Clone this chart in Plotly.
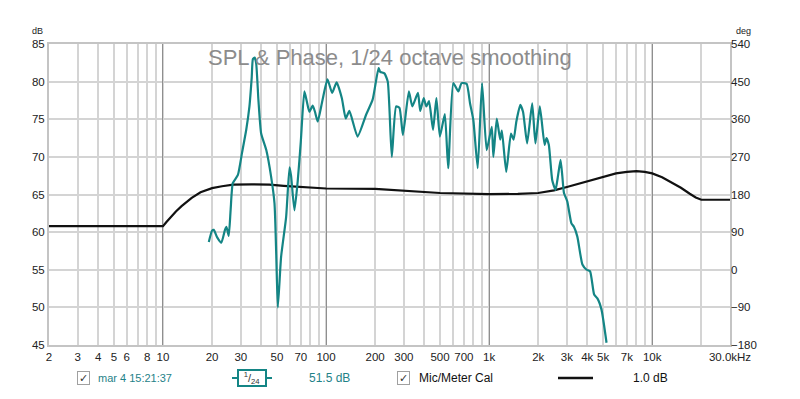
import plotly.graph_objects as go
import math

# SPL measurement (teal), 1/24 octave smoothing
spl_freq = [19.1, 20.0, 20.5, 21.5, 22.8, 24.0, 24.5, 25.3, 26.0, 26.8, 28.8, 30.5, 32.4, 33.9,
            35.0, 35.6, 36.5, 37.3, 38.5, 40.0, 43.0, 46.0, 48.3, 49.5, 50.6, 53.0, 56.9, 59.7,
            61.0, 64.0, 67.1, 70.0, 73.6, 76.0, 79.0, 82.8, 85.5, 88.9, 95.0, 102, 109, 116,
            125, 132, 139, 156, 176, 193, 210, 215, 228, 239, 253, 269, 282, 296, 322, 338,
            366, 378, 397, 412, 428, 453, 475, 499, 535, 561, 603, 647, 678, 728, 764, 800,
            851, 905, 966, 1038, 1062, 1114, 1169, 1197, 1274, 1361, 1413, 1469, 1552, 1614,
            1710, 1837, 1923, 2046, 2188, 2249, 2323, 2438, 2553, 2642, 2742, 2812, 2877, 3013,
            3192, 3311, 3475, 3733, 3963, 4159, 4406, 4613, 4887, 5248]
spl_db = [58.7, 60.2, 60.3, 59.3, 58.6, 60.3, 60.7, 59.5, 63.0, 66.5, 67.6, 70.5, 73.6, 76.7,
          80.5, 83.0, 83.2, 82.4, 77.5, 73.1, 70.9, 67.4, 63.8, 57.0, 50.0, 56.7, 62.0, 68.6,
          67.5, 62.9, 66.9, 72.0, 78.7, 77.5, 76.0, 76.8, 76.0, 74.7, 77.5, 80.3, 78.5, 79.9,
          77.8, 75.1, 76.1, 72.7, 75.6, 77.6, 81.8, 81.3, 81.1, 80.0, 70.0, 76.7, 76.5, 72.9,
          78.7, 76.7, 78.5, 76.1, 77.8, 76.7, 77.4, 73.6, 77.8, 72.7, 75.7, 68.5, 79.8, 78.7,
          79.8, 79.7, 77.1, 74.9, 68.5, 79.8, 70.9, 74.0, 70.0, 75.1, 72.3, 73.5, 68.0, 73.1,
          72.3, 74.7, 76.9, 76.0, 71.8, 77.1, 71.8, 76.7, 71.6, 72.5, 71.6, 66.9, 65.6, 67.4,
          69.6, 67.4, 65.2, 64.1, 61.2, 60.7, 59.4, 55.7, 55.0, 54.8, 51.7, 51.2, 49.7, 45.3]

# Mic/Meter Cal curve (black)
cal_freq = [2, 10, 10.5, 11, 12, 13, 14, 15, 17, 20, 23, 27, 35, 45, 55, 70, 100, 200, 300,
            500, 1000, 1500, 2000, 2500, 3000, 3500, 4000, 5000, 6000, 7000, 8000, 9000, 10000,
            11500, 13000, 15000, 17000, 18500, 20000, 30000]
cal_db = [60.8, 60.8, 61.35, 61.85, 62.75, 63.45, 64.05, 64.55, 65.3, 65.85, 66.1, 66.3, 66.35,
          66.3, 66.15, 66.0, 65.8, 65.75, 65.5, 65.2, 65.05, 65.08, 65.2, 65.55, 66.0, 66.4,
          66.8, 67.4, 67.8, 68.0, 68.1, 68.0, 67.8, 67.3, 66.7, 65.9, 65.1, 64.6, 64.3, 64.3]

# Axis ticks
x_tick_vals = [2, 3, 4, 5, 6, 7, 8, 9, 10, 20, 30, 40, 50, 60, 70, 80, 90, 100, 200, 300, 400,
               500, 600, 700, 800, 900, 1000, 2000, 3000, 4000, 5000, 6000, 7000, 8000, 9000,
               10000, 20000, 30000]
x_tick_text = ["2", "3", "4", "5", "6", "", "8", "", "10", "20", "30", "", "50", "", "70", "", "",
               "100", "200", "300", "", "500", "", "700", "", "", "1k", "2k", "3k", "4k", "5k",
               "", "7k", "", "", "10k", "", "30.0kHz"]
decades = [10, 100, 1000, 10000]
db_ticks = [45, 50, 55, 60, 65, 70, 75, 80, 85]
deg_ticks = [-180, -90, 0, 90, 180, 270, 360, 450, 540]

TEAL = "#148585"
TEAL_TXT = "#1f8288"
FONT = "Liberation Sans, Arial, sans-serif"

# The page body has an 8px default margin: size the figure so the plot lands in place.
OFF = 8
W, H = 800 - OFF, 399 - OFF
ML, MR, MT, MB = 49 - OFF, 70, 44 - OFF, 54
PL, PR, PT, PB = 49, 730, 44, 345   # plot area in window pixels

fig = go.Figure()
fig.add_trace(go.Scatter(x=cal_freq, y=cal_db, mode="lines",
                         line=dict(color="#111111", width=2.2),
                         hoverinfo="skip", showlegend=False))
fig.add_trace(go.Scatter(x=spl_freq, y=spl_db, mode="lines",
                         line=dict(color=TEAL, width=2.2, shape="spline", smoothing=0.5),
                         showlegend=False))
# phase axis carrier (no phase data shown)
fig.add_trace(go.Scatter(x=[None], y=[None], yaxis="y2", xaxis="x", showlegend=False))
# decade gridline carrier
fig.add_trace(go.Scatter(x=[None], y=[None], xaxis="x2", showlegend=False))

xr = [math.log10(2), math.log10(30000)]
fig.update_layout(
    width=W, height=H,
    margin=dict(l=ML, r=MR, t=MT, b=MB, autoexpand=False),
    paper_bgcolor="white", plot_bgcolor="white",
    font=dict(family=FONT, size=12, color="#222222"),
    xaxis=dict(type="log", range=xr, tickmode="array", tickvals=x_tick_vals,
               ticktext=x_tick_text, showgrid=True, gridcolor="#d4d4d4", gridwidth=1.5,
               showline=True, linecolor="#c4c4c4", linewidth=2, mirror=True,
               ticks="", zeroline=False, tickfont=dict(size=11.5), automargin=False),
    xaxis2=dict(type="log", range=xr, overlaying="x", tickmode="array", tickvals=decades,
                showticklabels=False, showgrid=True, gridcolor="#8f8f8f", gridwidth=1,
                ticks="", zeroline=False, showline=False),
    yaxis=dict(range=[45, 85], tickmode="array", tickvals=db_ticks, showgrid=True,
               gridcolor="#d4d4d4", gridwidth=1.5, showline=True, linecolor="#c4c4c4",
               linewidth=2, mirror=True, ticks="", zeroline=False, tickfont=dict(size=11.5),
               automargin=False),
    yaxis2=dict(range=[-180, 540], tickmode="array", tickvals=deg_ticks, overlaying="y",
                side="right", showgrid=False, zeroline=False, ticks="",
                tickfont=dict(size=11.5), automargin=False),
)


def px_to_paper(px, py):
    return (px - PL) / (PR - PL), (PB - py) / (PB - PT)


tx, ty = px_to_paper(390, 58)
fig.add_annotation(text="SPL & Phase, 1/24 octave smoothing", x=tx, y=ty, xref="paper",
                   yref="paper", xanchor="center", yanchor="middle", showarrow=False,
                   font=dict(size=22, color="#8c8c8c", family=FONT))
# unit labels
fig.add_annotation(text="dB", xref="paper", yref="paper", x=px_to_paper(37, 0)[0],
                   y=px_to_paper(0, 31)[1], xanchor="center", yanchor="middle",
                   showarrow=False, font=dict(size=9))
fig.add_annotation(text="deg", xref="paper", yref="paper", x=px_to_paper(743, 0)[0],
                   y=px_to_paper(0, 31)[1], xanchor="center", yanchor="middle",
                   showarrow=False, font=dict(size=9))

legend_y = px_to_paper(0, 378)[1]


def add_text(txt, px, color, size=12, anchor="left", **kw):
    fig.add_annotation(text=txt, x=px_to_paper(px, 0)[0], y=legend_y, xref="paper",
                       yref="paper", xanchor=anchor, yanchor="middle", showarrow=False,
                       font=dict(size=size, color=color, family=FONT), **kw)


add_text("✓", 83, "#333333", size=11, anchor="center", bordercolor="#a0a0a0",
         borderwidth=1, borderpad=0, bgcolor="white", width=11, height=12)
add_text("mar 4 15:21:37", 96, TEAL_TXT, size=11)
add_text("<sup>1</sup>/<sub>24</sub>", 252, "#333333", size=11, anchor="center",
         bordercolor=TEAL, borderwidth=2, borderpad=0, width=26, height=14)
add_text("51.5 dB", 307, TEAL_TXT)
add_text("✓", 403, "#333333", size=11, anchor="center", bordercolor="#a0a0a0",
         borderwidth=1, borderpad=0, bgcolor="white", width=11, height=12)
add_text("Mic/Meter Cal", 417, "#111111")
add_text("1.0 dB", 631, "#111111")

x0 = px_to_paper(558, 0)[0]
x1 = px_to_paper(593, 0)[0]
fig.add_shape(type="line", xref="paper", yref="paper", x0=x0, x1=x1, y0=legend_y, y1=legend_y,
              line=dict(color="#111111", width=2.5))
# small tabs on the 1/24 box
for a, b in [(232, 238), (266, 272)]:
    fig.add_shape(type="line", xref="paper", yref="paper", x0=px_to_paper(a, 0)[0],
                  x1=px_to_paper(b, 0)[0], y0=legend_y, y1=legend_y,
                  line=dict(color=TEAL, width=2))

fig.write_html("out.html")
